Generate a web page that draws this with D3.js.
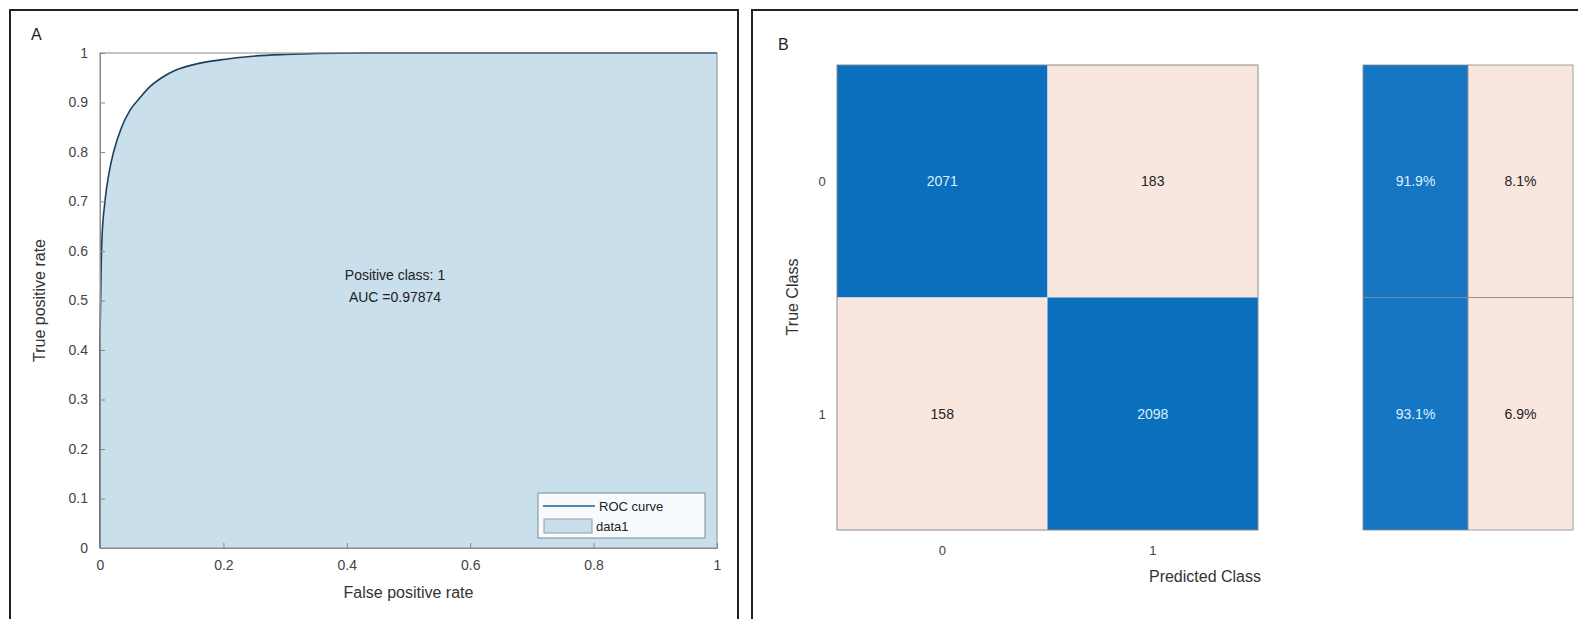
<!DOCTYPE html>
<html>
<head>
<meta charset="utf-8">
<script src="https://cdn.jsdelivr.net/npm/d3@7"></script>
<style>
  body { margin: 0; background: #fff; }
  svg { display: block; font-family: "Liberation Sans", Arial, sans-serif; }
</style>
</head>
<body>
<svg id="chart" width="1578" height="619"></svg>
<script>
// ROC curve points
const fpr = [0, 0, 0.001, 0.003, 0.008, 0.015, 0.022, 0.035, 0.049, 0.065, 0.081, 0.1, 0.124, 0.15, 0.173, 0.2, 0.243, 0.3, 0.35, 0.45, 1]
const tpr = [0, 0.4, 0.5, 0.62, 0.70, 0.76, 0.80, 0.85, 0.885, 0.91, 0.932, 0.95, 0.966, 0.976, 0.982, 0.987, 0.993, 0.997, 0.999, 1, 1]
const rocTicks = [0, 0.1, 0.2, 0.3, 0.4, 0.5, 0.6, 0.7, 0.8, 0.9, 1]
const rocXTicks = [0, 0.2, 0.4, 0.6, 0.8, 1]
const aucText = ['Positive class: 1', 'AUC =0.97874']

// confusion matrix
const classes = ['0', '1']
const counts = [[2071, 183], [158, 2098]]
const rowPct = [[91.9, 8.1], [93.1, 6.9]]

const svg = d3.select('#chart')
const axisGrey = '#8a8a8a'
const tickColor = '#444'

// panel frames
svg.append('rect').attr('x', 10).attr('y', 10).attr('width', 728).attr('height', 620)
    .attr('fill', 'none').attr('stroke', '#222').attr('stroke-width', 2)
svg.append('rect').attr('x', 752).attr('y', 10).attr('width', 840).attr('height', 620)
    .attr('fill', 'none').attr('stroke', '#222').attr('stroke-width', 2)

svg.append('text').attr('x', 31).attr('y', 40).attr('font-size', 16).attr('fill', '#222').text('A')
svg.append('text').attr('x', 778).attr('y', 50).attr('font-size', 16).attr('fill', '#222').text('B')

// ---- panel A: ROC ----
const x = d3.scaleLinear().domain([0, 1]).range([100, 717])
const y = d3.scaleLinear().domain([0, 1]).range([548, 53])
const roc = fpr.map((d, i) => ({ x: d, y: tpr[i] }))

const area = d3.area().x((d) => x(d.x)).y0(y(0)).y1((d) => y(d.y))
svg.append('path').datum(roc).attr('d', area).attr('fill', '#c9dfec')

const line = d3.line().x((d) => x(d.x)).y((d) => y(d.y)).curve(d3.curveMonotoneX)
svg.append('path').datum(roc).attr('d', line)
    .attr('fill', 'none').attr('stroke', '#1d3f5e').attr('stroke-width', 1.6)

// box
svg.append('rect').attr('x', x(0)).attr('y', y(1)).attr('width', x(1) - x(0)).attr('height', y(0) - y(1))
    .attr('fill', 'none').attr('stroke', axisGrey).attr('stroke-width', 1)

const xAxis = svg.append('g').attr('transform', 'translate(0,' + y(0) + ')')
    .call(d3.axisBottom(x).tickValues(rocXTicks).tickFormat(d3.format('')).tickSize(-5).tickPadding(12))
const yAxis = svg.append('g').attr('transform', 'translate(' + x(0) + ',0)')
    .call(d3.axisLeft(y).tickValues(rocTicks).tickFormat(d3.format('')).tickSize(-5).tickPadding(12))
;[xAxis, yAxis].forEach((g) => {
    g.select('.domain').attr('stroke', axisGrey)
    g.selectAll('.tick line').attr('stroke', axisGrey)
    g.selectAll('.tick text').attr('font-size', 14).attr('fill', tickColor)
        .style('font-family', '"Liberation Sans", Arial, sans-serif')
})

svg.append('text').attr('x', (x(0) + x(1)) / 2).attr('y', 598).attr('text-anchor', 'middle')
    .attr('font-size', 16).attr('fill', '#333').text('False positive rate')
svg.append('text').attr('transform', 'translate(45,' + (y(0) + y(1)) / 2 + ') rotate(-90)')
    .attr('text-anchor', 'middle').attr('font-size', 16).attr('fill', '#333').text('True positive rate')

svg.selectAll('.auc').data(aucText).join('text').attr('class', 'auc')
    .attr('x', 395).attr('y', (d, i) => 280 + i * 22).attr('text-anchor', 'middle')
    .attr('font-size', 14).attr('fill', '#222').text((d) => d)

// legend
const lg = svg.append('g').attr('transform', 'translate(538,493)')
lg.append('rect').attr('width', 167).attr('height', 45).attr('fill', '#f7fbfd').attr('stroke', '#7a8a99')
lg.append('line').attr('x1', 5).attr('x2', 57).attr('y1', 13).attr('y2', 13)
    .attr('stroke', '#1d5f93').attr('stroke-width', 1.6)
lg.append('text').attr('x', 61).attr('y', 18).attr('font-size', 13).attr('fill', '#222').text('ROC curve')
lg.append('rect').attr('x', 6).attr('y', 26).attr('width', 48).attr('height', 14)
    .attr('fill', '#c9dfec').attr('stroke', '#999')
lg.append('text').attr('x', 58).attr('y', 38).attr('font-size', 13).attr('fill', '#222').text('data1')

// ---- panel B: confusion matrix ----
const blue = '#0a6fbd'
const blue2 = '#1576c4'
const peach = '#f9e6de'
const cx = d3.scaleBand().domain(classes).range([837, 1258])
const cy = d3.scaleBand().domain(classes).range([65, 530])
const cells = []
counts.forEach((row, i) => row.forEach((v, j) => cells.push({ r: classes[i], c: classes[j], v: v, diag: i === j })))

svg.selectAll('.cell').data(cells).join('rect').attr('class', 'cell')
    .attr('x', (d) => cx(d.c)).attr('y', (d) => cy(d.r))
    .attr('width', cx.bandwidth()).attr('height', cy.bandwidth())
    .attr('fill', (d) => (d.diag ? blue : peach))
svg.append('rect').attr('x', 837).attr('y', 65).attr('width', 1258 - 837).attr('height', 530 - 65)
    .attr('fill', 'none').attr('stroke', axisGrey)
svg.selectAll('.cellText').data(cells).join('text').attr('class', 'cellText')
    .attr('x', (d) => cx(d.c) + cx.bandwidth() / 2).attr('y', (d) => cy(d.r) + cy.bandwidth() / 2 + 5)
    .attr('text-anchor', 'middle').attr('font-size', 14)
    .attr('fill', (d) => (d.diag ? '#dcefff' : '#222')).text((d) => d.v)

// row summary
const sx = d3.scaleBand().domain(['tp', 'fn']).range([1363, 1573])
const sum = []
rowPct.forEach((row, i) => row.forEach((v, j) => sum.push({ r: classes[i], k: j === 0 ? 'tp' : 'fn', v: v })))
svg.selectAll('.scell').data(sum).join('rect').attr('class', 'scell')
    .attr('x', (d) => sx(d.k)).attr('y', (d) => cy(d.r))
    .attr('width', sx.bandwidth()).attr('height', cy.bandwidth())
    .attr('fill', (d) => (d.k === 'tp' ? blue2 : peach))
    .attr('stroke', '#8a8a8a').attr('stroke-width', 0.8)
svg.selectAll('.stext').data(sum).join('text').attr('class', 'stext')
    .attr('x', (d) => sx(d.k) + sx.bandwidth() / 2).attr('y', (d) => cy(d.r) + cy.bandwidth() / 2 + 5)
    .attr('text-anchor', 'middle').attr('font-size', 14)
    .attr('fill', (d) => (d.k === 'tp' ? '#dcefff' : '#222')).text((d) => d.v.toFixed(1) + '%')

// axes labels for matrix
svg.selectAll('.rowLab').data(classes).join('text').attr('class', 'rowLab')
    .attr('x', 822).attr('y', (d) => cy(d) + cy.bandwidth() / 2 + 5).attr('text-anchor', 'middle')
    .attr('font-size', 13).attr('fill', tickColor).text((d) => d)
svg.selectAll('.colLab').data(classes).join('text').attr('class', 'colLab')
    .attr('x', (d) => cx(d) + cx.bandwidth() / 2).attr('y', 555).attr('text-anchor', 'middle')
    .attr('font-size', 13).attr('fill', tickColor).text((d) => d)
svg.append('text').attr('x', 1205).attr('y', 582).attr('text-anchor', 'middle')
    .attr('font-size', 16).attr('fill', '#333').text('Predicted Class')
svg.append('text').attr('transform', 'translate(798,297) rotate(-90)')
    .attr('text-anchor', 'middle').attr('font-size', 16).attr('fill', '#333').text('True Class')
</script>
</body>
</html>
